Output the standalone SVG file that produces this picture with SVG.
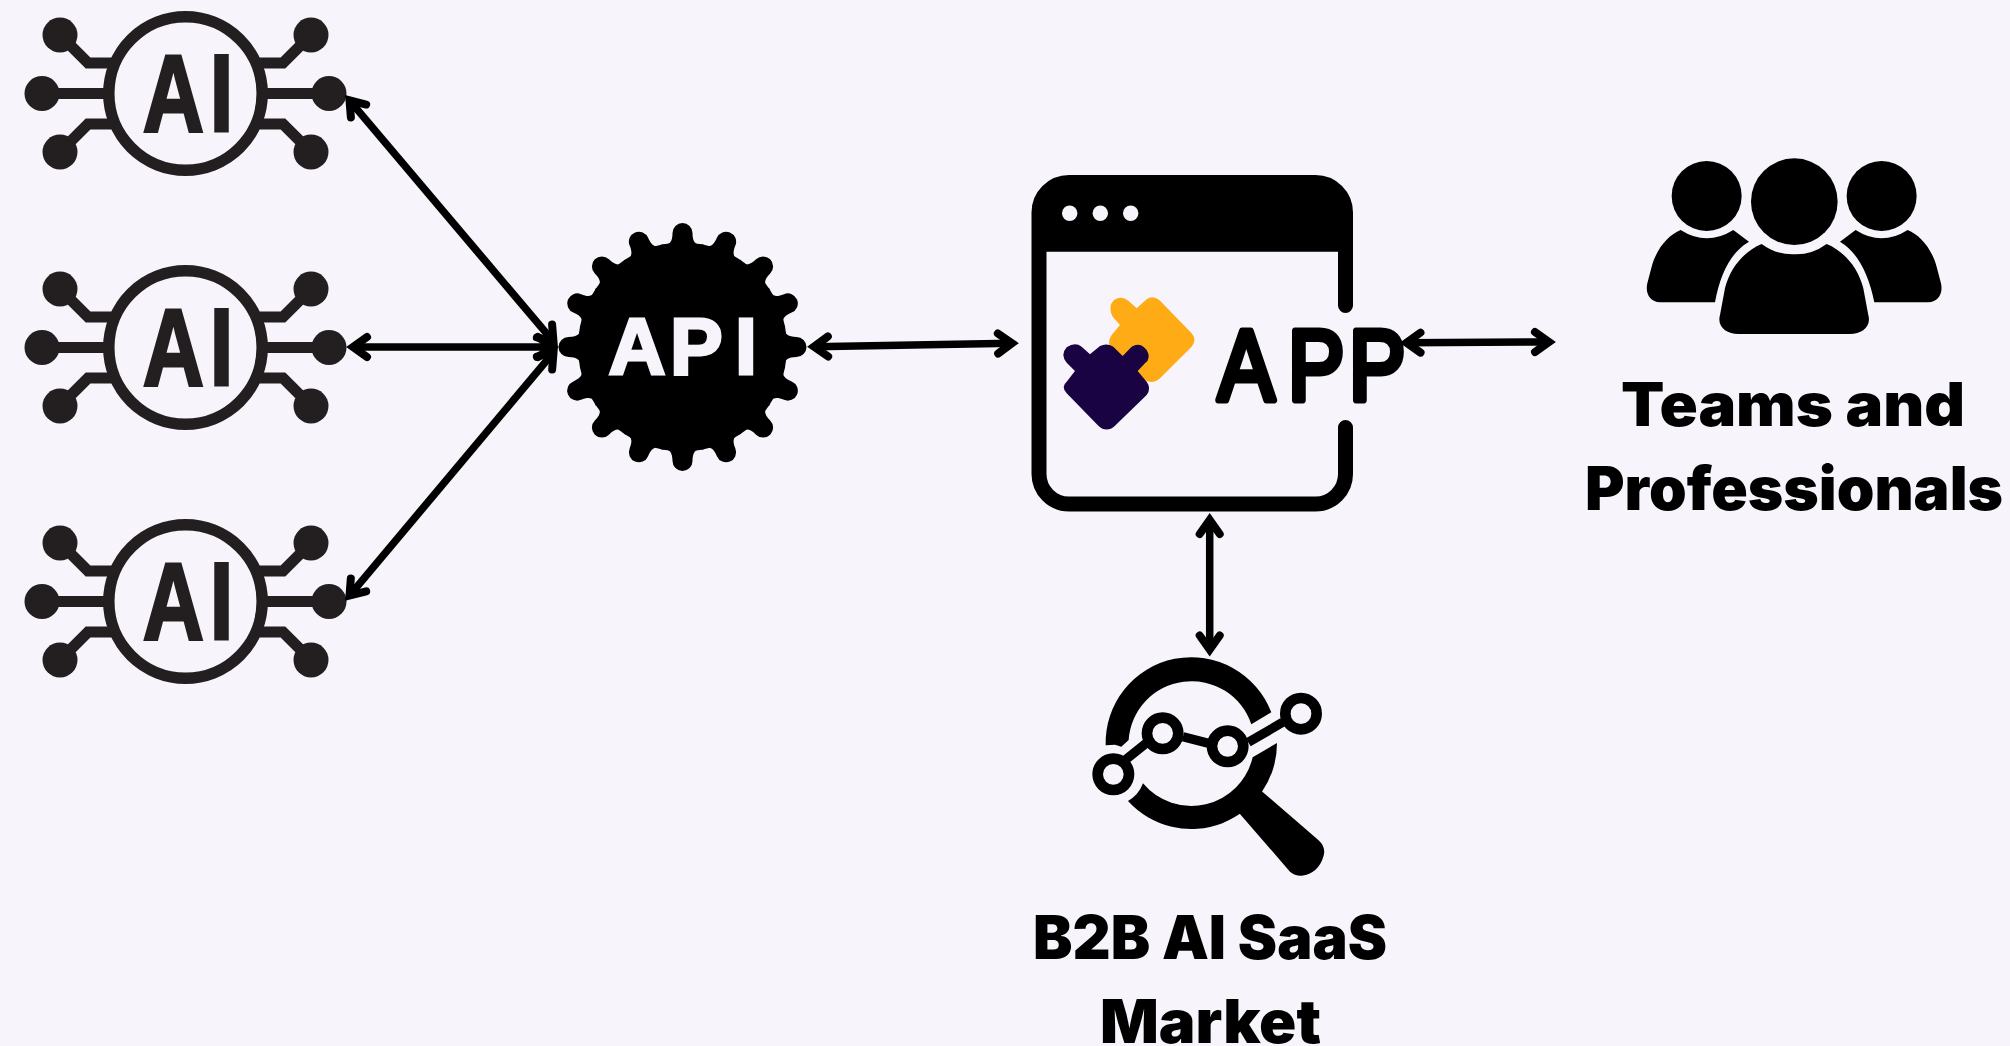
<svg xmlns="http://www.w3.org/2000/svg" width="2010" height="1046" viewBox="0 0 2010 1046">
<style>
.lbl{font-family:"Inter","Liberation Sans",sans-serif;font-weight:900;font-size:60px;fill:#000;text-anchor:middle}
.conn{fill:none;stroke:#000;stroke-width:7.500;marker-start:url(#ah);marker-end:url(#ah)}
.wire{fill:none;stroke:#231f20;stroke-width:11}
</style>
<defs>
<marker id="ah" markerUnits="userSpaceOnUse" markerWidth="60" markerHeight="60" refX="30" refY="30" orient="auto-start-reverse" overflow="visible">
<path d="M16 20L30 30L16 40" fill="none" stroke="#000" stroke-width="8" stroke-linecap="round" stroke-linejoin="miter"/>
</marker>
<g id="ai">
<circle cx="185.500" cy="93.500" r="76.700" fill="none" stroke="#231f20" stroke-width="11.500"/>
<path class="wire" d="M42 93.500H105M60 35L88 63H113M60 152L88 124H113M329 93.500H266M311 35L283 63H258M311 152L283 124H258"/>
<g fill="#231f20">
<circle cx="60" cy="35" r="17.500"/><circle cx="42" cy="93.500" r="17.500"/><circle cx="60" cy="152" r="17.500"/>
<circle cx="311" cy="35" r="17.500"/><circle cx="329" cy="93.500" r="17.500"/><circle cx="311" cy="152" r="17.500"/>
</g>
<text transform="translate(142 131) scale(.77 1)" x="1 88" y="0" font-family="Liberation Sans" font-weight="700" font-size="110" fill="#231f20" stroke="#231f20" stroke-width="3">AI</text>
</g>
<g id="bump"><path d="M0 0L-21 -102.500C-14 -101 -10 -104 -10 -114A10 10 0 0 1 10 -114C10 -104 14 -101 21 -102.500Z"/></g>
</defs>
<rect width="2010" height="1046" fill="#f7f5fb"/>

<g id="ai-1"><use href="#ai"/></g>
<g id="ai-2"><use href="#ai" y="254"/></g>
<g id="ai-3"><use href="#ai" y="508"/></g>

<g id="api">
<g transform="translate(682.500 347)">
<circle r="104.500"/>
<use href="#bump"/><use href="#bump" transform="rotate(22.500)"/><use href="#bump" transform="rotate(45)"/><use href="#bump" transform="rotate(67.500)"/><use href="#bump" transform="rotate(90)"/><use href="#bump" transform="rotate(112.500)"/><use href="#bump" transform="rotate(135)"/><use href="#bump" transform="rotate(157.500)"/><use href="#bump" transform="rotate(180)"/><use href="#bump" transform="rotate(202.500)"/><use href="#bump" transform="rotate(225)"/><use href="#bump" transform="rotate(247.500)"/><use href="#bump" transform="rotate(270)"/><use href="#bump" transform="rotate(292.500)"/><use href="#bump" transform="rotate(315)"/><use href="#bump" transform="rotate(337.500)"/>
</g>
<text x="608.500 670 735" y="374" font-family="Liberation Sans" font-weight="700" font-size="79" fill="#f7f5fb" stroke="#f7f5fb" stroke-width="3">API</text>
</g>

<g id="app">
<path d="M1345.500 305.500V212.500A30 30 0 0 0 1315.500 182.500H1069A30 30 0 0 0 1039 212.500V474A30 30 0 0 0 1069 504H1315.500A30 30 0 0 0 1345.500 474V427.500" fill="none" stroke="#000" stroke-width="15" stroke-linecap="round"/>
<path d="M1039 251.700V212.500A30 30 0 0 1 1069 182.500H1315.500A30 30 0 0 1 1345.500 212.500V251.700Z"/>
<g fill="#f7f5fb"><circle cx="1069.700" cy="213.300" r="7.700"/><circle cx="1100.300" cy="213.300" r="7.700"/><circle cx="1130.700" cy="213.300" r="7.700"/></g>
<g transform="translate(1010 160) scale(.3333)">
<path fill="#ffab15" d="M380 445L410 418Q428 405 448 420L545 520Q562 540 545 560L450 655Q428 675 405 660L300 560Q292 545 305 525L330 495L308 470Q292 440 312 420Q335 405 355 422Z"/>
<path fill="#1a0342" d="M240 583L270 558Q290 548 310 560L338 588L365 560Q390 545 410 570Q425 595 405 610L383 633L410 665Q425 685 410 705L315 797Q290 820 265 797L170 700Q152 680 170 665L195 633L170 608Q150 585 170 562Q195 545 215 560Z"/>
</g>
<text transform="translate(1218 400) scale(.845 1)" x="0 82.800 155" y="0" font-family="Liberation Sans" font-size="100" fill="#000" stroke="#000" stroke-width="7" stroke-linejoin="round">APP</text>
</g>

<g id="market">
<g transform="translate(1060 640) scale(.3333)">
<path d="M137 316A257 257 0 0 1 634 217L574 253A189 189 0 0 0 206 300L184 320L165 314Z"/>
<path d="M204 483A257 257 0 0 0 651 309L578 352A189 189 0 0 1 249 430Q236 465 204 483Z"/>
<path d="M608 456L775 600Q800 622 790 650Q775 700 725 707Q705 708 690 695L540 522L525 505L590 440Z"/>
<g fill="none" stroke="#000" stroke-width="32"><circle cx="160" cy="403" r="47"/><circle cx="308" cy="280" r="47"/><circle cx="503" cy="319" r="47"/><circle cx="723" cy="221" r="47"/></g>
<path d="M198 358L258 310M369 290L445 310M565 307L668 247" fill="none" stroke="#000" stroke-width="28"/>
</g>
<text class="lbl" x="1210" y="959" textLength="354" lengthAdjust="spacingAndGlyphs">B2B AI SaaS</text>
<text class="lbl" x="1210.500" y="1043" textLength="221" lengthAdjust="spacingAndGlyphs">Market</text>
</g>

<g id="teams">
<g transform="translate(1590 140) scale(.3333)">
<circle cx="613" cy="185" r="130"/><circle cx="350" cy="168" r="105"/><circle cx="875" cy="168" r="105"/>
<path d="M515 312Q560 345 613 343Q665 345 710 312C765 335 805 385 820 445L835 525C845 560 815 582 780 582H445C410 582 380 560 390 525L405 445C420 385 460 335 515 312Z"/>
<path d="M272 270Q350 320 430 270L477 305Q400 350 375 487H210C180 487 165 460 172 430L185 380C200 325 235 285 272 270Z"/>
<path d="M953 270Q875 320 797 270L750 305Q825 350 853 487H1015C1045 487 1060 460 1053 430L1040 380C1025 325 990 285 953 270Z"/>
</g>
<text class="lbl" x="1793" y="426" textLength="344" lengthAdjust="spacingAndGlyphs">Teams and</text>
<text class="lbl" x="1794" y="510" textLength="418" lengthAdjust="spacingAndGlyphs">Professionals</text>
</g>

<g id="connectors">
<path class="conn" d="M349.500 100.300L553.500 341.700"/>
<path class="conn" d="M353 347L552 347"/>
<path class="conn" d="M349.500 595.600L553.500 352.400"/>
<path class="conn" d="M814 346.700L1012 343.300"/>
<path class="conn" d="M1406.500 342.700L1549 342"/>
<path class="conn" d="M1209.700 520L1209.700 649.500"/>
</g>
</svg>
